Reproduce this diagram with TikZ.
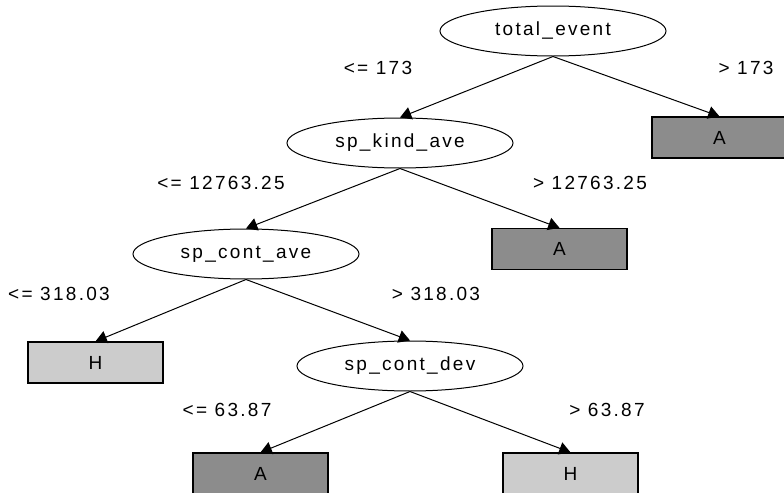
\documentclass[tikz,border=0pt]{standalone}
\usepackage{fontspec}
\setmainfont{Liberation Sans}[LetterSpace=12]
\usepackage{tikz}
\usetikzlibrary{arrows}
\usetikzlibrary{shapes.geometric}
\definecolor{leafdark}{gray}{0.55}
\definecolor{leaflight}{gray}{0.8}

\begin{document}
\begin{tikzpicture}[x=0.5pt, y=-0.5pt, font=\fontsize{9.5}{11}\selectfont,
  split/.style={draw, ellipse, line width=0.5pt, color=black,
       minimum width=113pt, minimum height=25pt, inner sep=0pt},
  leaf/.style={draw, line width=0.6pt, color=black,
       minimum width=67.5pt, minimum height=20.5pt, inner sep=0pt},
  cond/.style={color=black, inner sep=0pt},
  branch/.style={line width=0.5pt, black, ->, >=triangle 60}]

\useasboundingbox (0,0) rectangle (784,493);

\draw (553, 31) node[split] (tot) {total\_event};
\draw (400, 143) node[split] (kind) {sp\_kind\_ave};
\draw (246, 254) node[split] (cave) {sp\_cont\_ave};
\draw (410, 366) node[split] (cdev) {sp\_cont\_dev};

\draw (719.5, 137.5) node[leaf, fill=leafdark] (a1) {A};
\draw (559.5, 249) node[leaf, fill=leafdark] (a2) {A};
\draw (95.5, 362.5) node[leaf, fill=leaflight] (h1) {H};
\draw (260.5, 473.5) node[leaf, fill=leafdark] (a3) {A};
\draw (570.5, 473.5) node[leaf, fill=leaflight] (h2) {H};

\draw (378, 68) node[cond] (c1) {<= 173};
\draw (746, 68) node[cond] (c2) {> 173};
\draw (221, 183) node[cond] (c3) {<= 12763.25};
\draw (590, 183) node[cond] (c4) {> 12763.25};
\draw (59, 294) node[cond] (c5) {<= 318.03};
\draw (436, 294) node[cond] (c6) {> 318.03};
\draw (227, 410) node[cond] (c7) {<= 63.87};
\draw (607, 410) node[cond] (c8) {> 63.87};

\draw[branch] (tot.south) -- (kind.north);
\draw[branch] (tot.south) -- (a1.north);
\draw[branch] (kind.south) -- (cave.north);
\draw[branch] (kind.south) -- (a2.north);
\draw[branch] (cave.south) -- (h1.north);
\draw[branch] (cave.south) -- (cdev.north);
\draw[branch] (cdev.south) -- (a3.north);
\draw[branch] (cdev.south) -- (h2.north);
\end{tikzpicture}
\end{document}
